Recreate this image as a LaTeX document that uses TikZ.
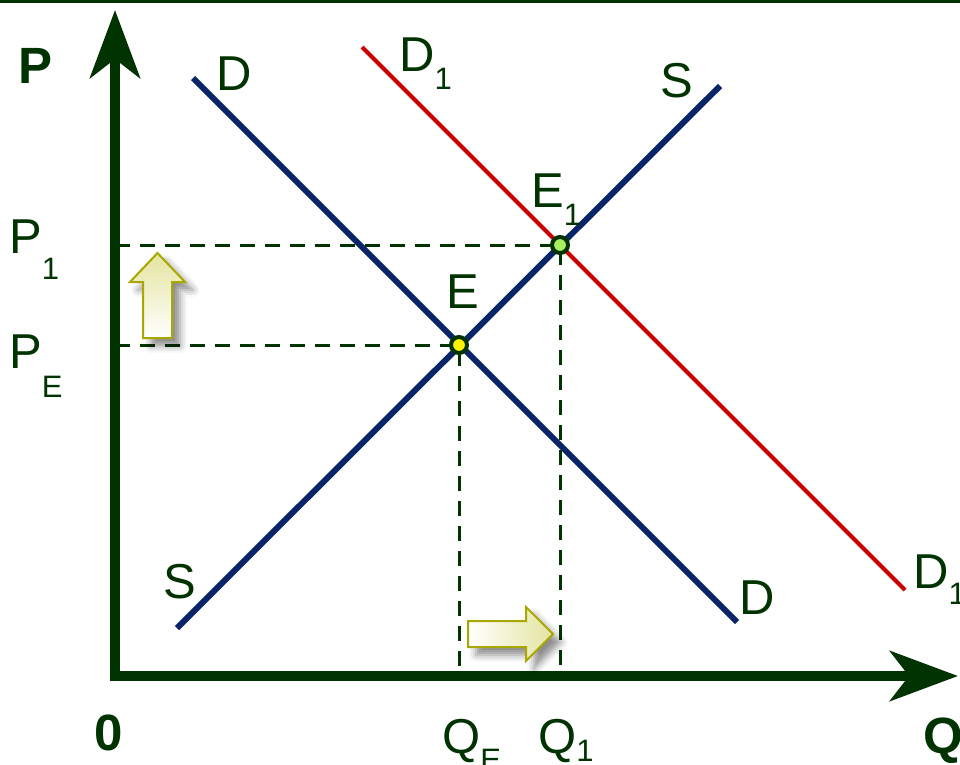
\documentclass[tikz,border=0pt]{standalone}
\usepackage{fontspec}
\setmainfont{Liberation Sans}
\usepackage{xcolor}
\usetikzlibrary{arrows.meta, shadows.blur}
\definecolor{axisgreen}{RGB}{0,51,0}
\definecolor{curveblue}{RGB}{10,36,104}
\definecolor{curvered}{RGB}{204,0,0}
\definecolor{headyellow}{RGB}{228,228,160}
\definecolor{rimolive}{RGB}{168,168,0}
\definecolor{pointgreen}{RGB}{168,240,96}
\newcommand{\lsub}[2][18pt]{\raisebox{-#1}{\fontsize{31}{31}\selectfont #2}}

\begin{document}
\begin{tikzpicture}[
  x=1pt, y=-1pt,
  axis/.style={line width=10pt, draw=axisgreen, -{Stealth[length=68pt, width=50pt, inset=19pt]}},
  curve/.style={line width=6pt, draw=curveblue},
  shifted/.style={line width=4pt, draw=curvered},
  guide/.style={line width=3pt, draw=axisgreen, dash pattern=on 15pt off 10pt},
  eqpoint/.style={circle, draw=axisgreen, line width=4pt, minimum size=16pt, inner sep=0pt},
  lbl/.style={font=\fontsize{49}{49}\selectfont, text=axisgreen, inner sep=0pt, anchor=base west},
  axlbl/.style={font=\fontsize{51}{51}\selectfont\bfseries, text=axisgreen, inner sep=0pt, anchor=base west},
  shiftarrow/.style={draw=rimolive, line width=2pt, line join=miter,
    blur shadow={shadow xshift=8pt, shadow yshift=-8pt, shadow blur radius=7pt, shadow opacity=45}}
]
\useasboundingbox (0,0) rectangle (960,764);
\draw[axisgreen, line width=3pt] (0,1.5) -- (960,1.5);

% --- Key points ---
\coordinate (O) at (115,676);
\coordinate (Dtop) at (193,78);
\coordinate (Dbot) at (737,622);
\coordinate (Sbot) at (177,628);
\coordinate (Stop) at (720,86);
\coordinate (D1top) at (362,47);
\coordinate (D1bot) at (905,590);
\coordinate (E) at (459,345);
\coordinate (E1) at (560,245);

% --- Guide lines ---
\draw[guide] (O |- E1) -- (E1) -- (E1 |- O);
\draw[guide] (O |- E) -- (E) -- (E |- O);

% --- Curves ---
\draw[shifted] (D1top) -- (D1bot);
\draw[curve] (Dtop) -- (Dbot);
\draw[curve] (Sbot) -- (Stop);

% --- Equilibria ---
\node[eqpoint, fill=yellow] (Ept) at (E) {};
\node[eqpoint, fill=pointgreen] (E1pt) at (E1) {};

% --- Axes ---
\draw[axis] (115,681) -- (115,10);
\draw[axis] (110,676) -- (958,676);

% --- Shift arrows ---
\draw[shiftarrow, top color=headyellow, bottom color=white]
  (143,338) -- (143,282) -- (130,282) -- (157.5,253) -- (185,282) -- (172,282) -- (172,338) -- cycle;
\draw[shiftarrow, left color=white, right color=headyellow]
  (468,621) -- (526,621) -- (526,607) -- (553,634) -- (526,661) -- (526,647) -- (468,647) -- cycle;

% --- Labels ---
\node[axlbl] (Plbl) at (18,83) {P};
\node[axlbl] (Olbl) at (94,750) {0};
\node[axlbl] (Qlbl) at (923,753) {Q};
\node[lbl] (Dlbl) at (216,90) {D};
\node[lbl] (D1lbl) at (399,71) {D\lsub{1}};
\node[lbl] (Slbl) at (660,97) {S};
\node[lbl] (E1lbl) at (531,207) {E\lsub{1}};
\node[lbl] (Elbl) at (446,308) {E};
\node[lbl] (P1lbl) at (9,253) {P\lsub[26pt]{1}};
\node[lbl] (PElbl) at (9,368) {P\lsub[29pt]{E}};
\node[lbl] (S2lbl) at (163,598) {S};
\node[lbl] (D2lbl) at (739,614) {D};
\node[lbl] (D12lbl) at (913,588) {D\lsub[16pt]{1}};
\node[lbl] (QElbl) at (442,753) {Q\lsub[17pt]{E}};
\node[lbl] (Q1lbl) at (538,753) {Q\lsub[8pt]{1}};
\end{tikzpicture}
\end{document}
